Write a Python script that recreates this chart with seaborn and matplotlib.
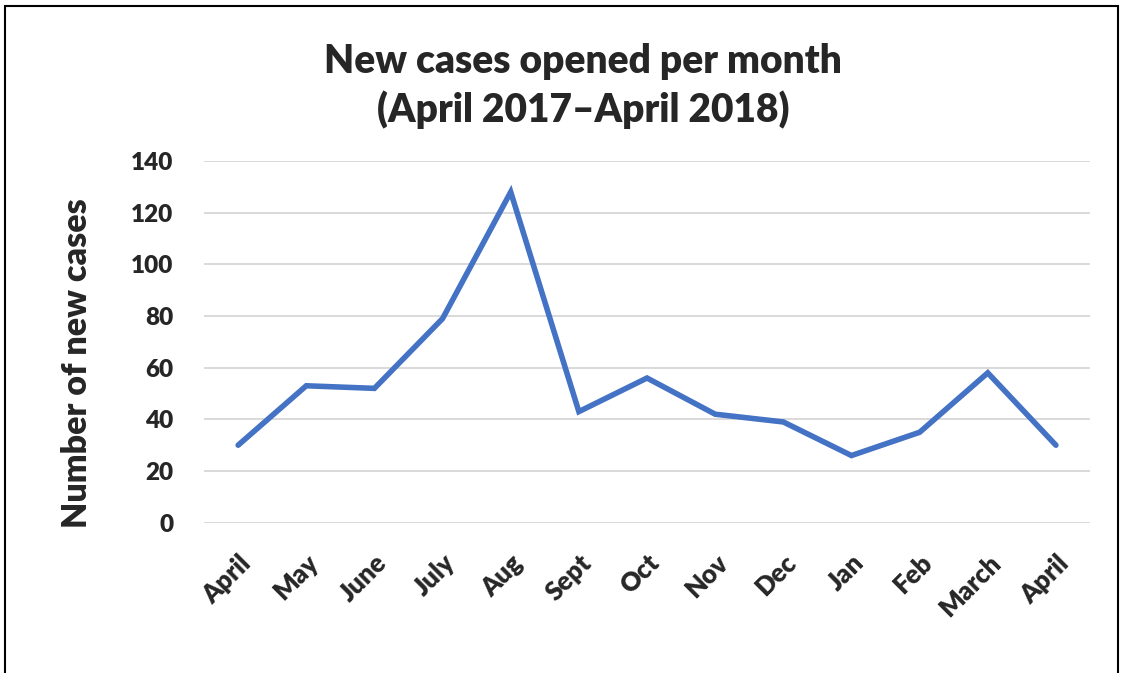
import pandas as pd
import numpy as np
import matplotlib.pyplot as plt
import seaborn as sns
from matplotlib.patches import Rectangle

# Data
months = ["April", "May", "June", "July", "Aug", "Sept", "Oct",
          "Nov", "Dec", "Jan", "Feb", "March", "April"]
new_cases = [30, 53, 52, 79, 128, 43, 56, 42, 39, 26, 35, 58, 30]

df = pd.DataFrame({"idx": range(len(months)), "cases": new_cases})

sns.set_style("white")
plt.rcParams['font.family'] = ['Lato', 'DejaVu Sans']
W = "heavy"

fig = plt.figure(figsize=(11.23, 6.73), dpi=100)
ax = fig.add_axes([0.1817, 0.2233, 0.7889, 0.5375])

sns.lineplot(x="idx", y="cases", data=df, ax=ax, color="#4472C4",
             linewidth=4, solid_capstyle="round", solid_joinstyle="miter")

ax.set_xlim(-0.5, len(months) - 0.5)
ax.set_ylim(0, 140)
ax.set_yticks(range(0, 141, 20))
ax.yaxis.grid(True, color="#d9d9d9", linewidth=1.4)
ax.set_axisbelow(True)
for s in ax.spines.values():
    s.set_visible(False)

ax.set_xticks(range(len(months)))
ax.set_xticklabels(months, rotation=45, ha="right", va="top",
                   rotation_mode="anchor", fontsize=18.5, fontweight=W)
ax.tick_params(axis="x", length=0, pad=20)
ax.tick_params(axis="y", length=0, pad=22, labelsize=17.5)
for t in ax.get_yticklabels():
    t.set_fontweight(W)

ax.set_xlabel("")
ax.set_ylabel("Number of new cases", fontsize=24.5, fontweight=W)
ax.yaxis.set_label_coords(-0.125, 0.44)

fig.text(0.519, 0.908, "New cases opened per month", ha="center", va="center",
         fontsize=28, fontweight=W)
fig.text(0.519, 0.837, "(April 2017\u2013April 2018)", ha="center", va="center",
         fontsize=28, fontweight=W)

# chart border (bottom edge is cut off in the original)
fig.patches.append(Rectangle((0.0045, -0.05), 0.991, 1.041, transform=fig.transFigure,
                             fill=False, edgecolor="black", linewidth=1.5))

plt.savefig("out.png", dpi=100)
plt.close()
